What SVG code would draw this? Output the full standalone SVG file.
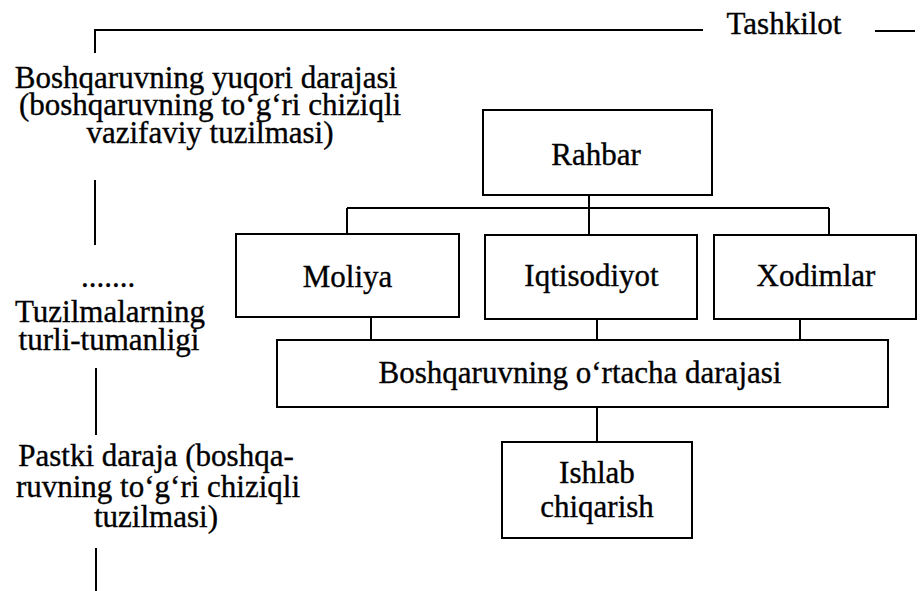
<svg xmlns="http://www.w3.org/2000/svg" width="922" height="591" viewBox="0 0 922 591">
<style>
text{font-family:"Liberation Serif","Times New Roman",serif;font-size:31px;fill:#000;stroke:#000;stroke-width:0.35px;text-anchor:middle}
.box{fill:#fff;stroke:#000;stroke-width:2}
.ln{stroke:#000;stroke-width:2;fill:none}
</style>
<rect width="922" height="591" fill="#fff"/>
<g id="frame">
<path class="ln" d="M95,30 H703 M95,29 V53 M875,31 H915 M95,180 V245 M96,368 V435 M96,548 V591"/>
<text x="784" y="34">Tashkilot</text>
</g>
<g id="labels">
<text x="206" y="88">Boshqaruvning yuqori darajasi</text>
<text x="210" y="115">(boshqaruvning to‘g‘ri chiziqli</text>
<text x="210" y="143">vazifaviy tuzilmasi)</text>
<text x="108" y="287">.......</text>
<text x="110" y="322">Tuzilmalarning</text>
<text x="109" y="350">turli-tumanligi</text>
<text x="156" y="466">Pastki daraja (boshqa-</text>
<text x="158" y="497">ruvning to‘g‘ri chiziqli</text>
<text x="156" y="527">tuzilmasi)</text>
</g>
<g id="connectors">
<path class="ln" d="M589,195 V235 M347,208 H829 M347,208 V234 M829,208 V235 M371,317 V340 M597,319 V339 M800,319 V339 M597,407 V442"/>
</g>
<g id="rahbar">
<rect class="box" x="483" y="110" width="229" height="85"/>
<text x="596" y="165">Rahbar</text>
</g>
<g id="moliya">
<rect class="box" x="236" y="234" width="223" height="83"/>
<text x="347.5" y="287">Moliya</text>
</g>
<g id="iqtisodiyot">
<rect class="box" x="485" y="235" width="212" height="84"/>
<text x="591.5" y="286">Iqtisodiyot</text>
</g>
<g id="xodimlar">
<rect class="box" x="714" y="235" width="202" height="84"/>
<text x="816" y="286">Xodimlar</text>
</g>
<g id="ortacha">
<rect class="box" x="277" y="340" width="611" height="67"/>
<text x="580" y="383">Boshqaruvning o‘rtacha darajasi</text>
</g>
<g id="ishlab">
<rect class="box" x="502" y="442" width="190" height="96"/>
<text x="597" y="483">Ishlab</text>
<text x="597" y="517">chiqarish</text>
</g>
</svg>
